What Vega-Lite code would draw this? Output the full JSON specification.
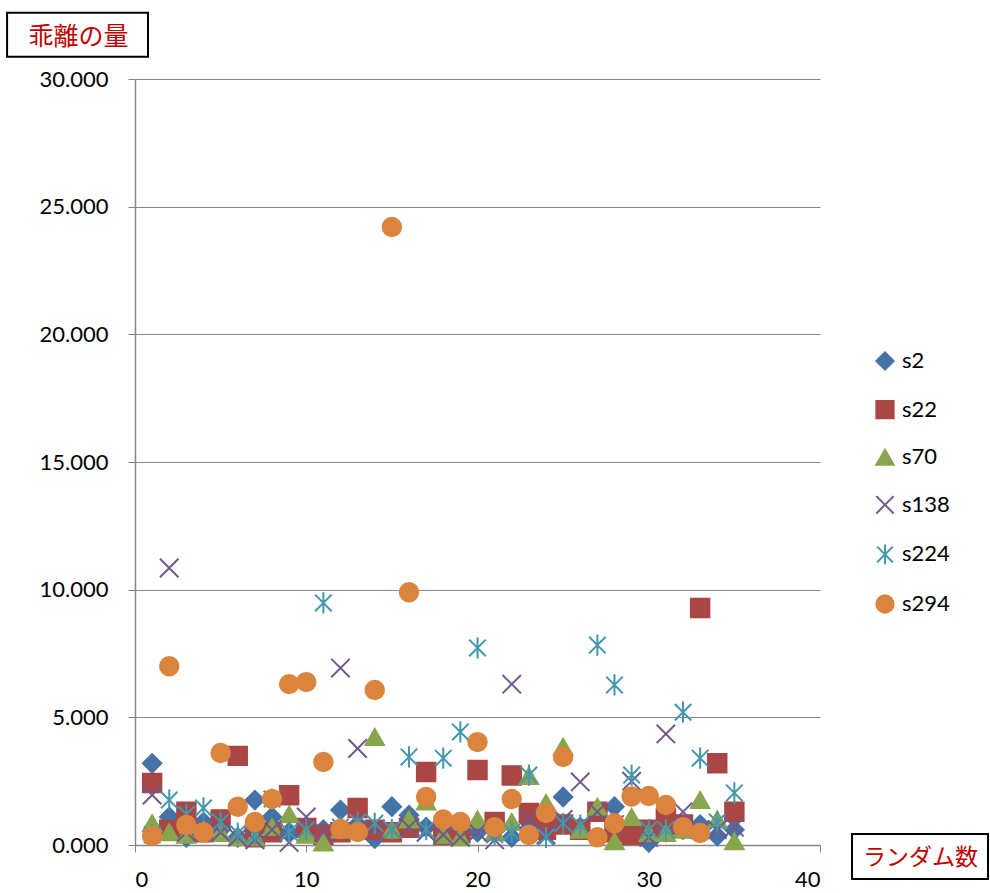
{
  "$schema": "https://vega.github.io/schema/vega-lite/v6.json",
  "width": 685,
  "height": 766,
  "autosize": {"type": "none"},
  "padding": {"left": 135, "top": 79, "right": 170, "bottom": 48},
  "background": "white",
  "config": {
    "view": {"stroke": null},
    "font": "Lato",
    "legend": {
      "orient": "none",
      "legendX": 739,
      "legendY": 271,
      "rowPadding": 22.6,
      "labelFontSize": 22,
      "labelFont": "Lato",
      "labelColor": "black",
      "labelOffset": 6,
      "padding": 0,
      "symbolSize": 300,
      "symbolStrokeWidth": 2,
      "symbolOpacity": 1
    }
  },
  "layer": [
    {
      "data": {"values": [{}]},
      "mark": {"type": "rect", "fill": "transparent", "stroke": "black", "strokeWidth": 2},
      "encoding": {
        "x": {"datum": -7.47, "type": "quantitative"},
        "x2": {"datum": 0.76},
        "y": {"datum": 32.59, "type": "quantitative"},
        "y2": {"datum": 30.87}
      }
    },
    {
      "data": {"values": [{}]},
      "mark": {"type": "rect", "fill": "transparent", "stroke": "black", "strokeWidth": 2},
      "encoding": {
        "x": {"datum": 41.87, "type": "quantitative"},
        "x2": {"datum": 49.81},
        "y": {"datum": 0.43, "type": "quantitative"},
        "y2": {"datum": -1.33}
      }
    },
    {
      "data": {"values": [
        {"x":1,"s":"s2","v":3.2},{"x":2,"s":"s2","v":1.1},{"x":3,"s":"s2","v":0.3},{"x":4,"s":"s2","v":0.9},{"x":5,"s":"s2","v":0.6},{"x":6,"s":"s2","v":0.3},{"x":7,"s":"s2","v":1.76},{"x":8,"s":"s2","v":1.1},{"x":9,"s":"s2","v":0.5},{"x":10,"s":"s2","v":0.5},{"x":11,"s":"s2","v":0.6},{"x":12,"s":"s2","v":1.37},{"x":13,"s":"s2","v":0.8},{"x":14,"s":"s2","v":0.25},{"x":15,"s":"s2","v":1.5},{"x":16,"s":"s2","v":1.17},{"x":17,"s":"s2","v":0.7},{"x":18,"s":"s2","v":0.5},{"x":19,"s":"s2","v":0.4},{"x":20,"s":"s2","v":0.5},{"x":21,"s":"s2","v":0.6},{"x":22,"s":"s2","v":0.3},{"x":23,"s":"s2","v":0.9},{"x":24,"s":"s2","v":0.6},{"x":25,"s":"s2","v":1.88},{"x":26,"s":"s2","v":0.7},{"x":27,"s":"s2","v":1.3},{"x":28,"s":"s2","v":1.5},{"x":29,"s":"s2","v":0.8},{"x":30,"s":"s2","v":0.1},{"x":31,"s":"s2","v":0.5},{"x":32,"s":"s2","v":0.6},{"x":33,"s":"s2","v":0.8},{"x":34,"s":"s2","v":0.35},{"x":35,"s":"s2","v":0.6},
        {"x":1,"s":"s22","v":2.43},{"x":2,"s":"s22","v":0.6},{"x":3,"s":"s22","v":1.3},{"x":4,"s":"s22","v":0.5},{"x":5,"s":"s22","v":1.0},{"x":6,"s":"s22","v":3.49},{"x":7,"s":"s22","v":0.3},{"x":8,"s":"s22","v":0.5},{"x":9,"s":"s22","v":1.95},{"x":10,"s":"s22","v":0.67},{"x":11,"s":"s22","v":0.4},{"x":12,"s":"s22","v":0.5},{"x":13,"s":"s22","v":1.45},{"x":14,"s":"s22","v":0.6},{"x":15,"s":"s22","v":0.5},{"x":16,"s":"s22","v":0.67},{"x":17,"s":"s22","v":2.86},{"x":18,"s":"s22","v":0.4},{"x":19,"s":"s22","v":0.47},{"x":20,"s":"s22","v":2.94},{"x":21,"s":"s22","v":0.9},{"x":22,"s":"s22","v":2.72},{"x":23,"s":"s22","v":1.25},{"x":24,"s":"s22","v":0.6},{"x":25,"s":"s22","v":0.8},{"x":26,"s":"s22","v":0.6},{"x":27,"s":"s22","v":1.3},{"x":28,"s":"s22","v":0.5},{"x":29,"s":"s22","v":0.4},{"x":30,"s":"s22","v":0.6},{"x":31,"s":"s22","v":1.05},{"x":32,"s":"s22","v":0.8},{"x":33,"s":"s22","v":9.28},{"x":34,"s":"s22","v":3.2},{"x":35,"s":"s22","v":1.3},
        {"x":1,"s":"s70","v":0.85},{"x":2,"s":"s70","v":0.5},{"x":3,"s":"s70","v":0.4},{"x":4,"s":"s70","v":0.6},{"x":5,"s":"s70","v":0.47},{"x":6,"s":"s70","v":0.3},{"x":7,"s":"s70","v":0.3},{"x":8,"s":"s70","v":0.7},{"x":9,"s":"s70","v":1.2},{"x":10,"s":"s70","v":0.4},{"x":11,"s":"s70","v":0.1},{"x":12,"s":"s70","v":0.6},{"x":13,"s":"s70","v":0.7},{"x":14,"s":"s70","v":4.23},{"x":15,"s":"s70","v":0.6},{"x":16,"s":"s70","v":1.0},{"x":17,"s":"s70","v":1.7},{"x":18,"s":"s70","v":0.4},{"x":19,"s":"s70","v":0.3},{"x":20,"s":"s70","v":1.0},{"x":21,"s":"s70","v":0.5},{"x":22,"s":"s70","v":0.9},{"x":23,"s":"s70","v":2.7},{"x":24,"s":"s70","v":1.65},{"x":25,"s":"s70","v":3.85},{"x":26,"s":"s70","v":0.6},{"x":27,"s":"s70","v":1.5},{"x":28,"s":"s70","v":0.15},{"x":29,"s":"s70","v":1.1},{"x":30,"s":"s70","v":0.47},{"x":31,"s":"s70","v":0.47},{"x":32,"s":"s70","v":0.6},{"x":33,"s":"s70","v":1.76},{"x":34,"s":"s70","v":1.0},{"x":35,"s":"s70","v":0.15},
        {"x":1,"s":"s138","v":1.96},{"x":2,"s":"s138","v":10.85},{"x":3,"s":"s138","v":0.5},{"x":4,"s":"s138","v":0.6},{"x":5,"s":"s138","v":0.5},{"x":6,"s":"s138","v":0.3},{"x":7,"s":"s138","v":0.2},{"x":8,"s":"s138","v":0.6},{"x":9,"s":"s138","v":0.1},{"x":10,"s":"s138","v":1.1},{"x":11,"s":"s138","v":0.5},{"x":12,"s":"s138","v":6.93},{"x":13,"s":"s138","v":3.78},{"x":14,"s":"s138","v":0.6},{"x":15,"s":"s138","v":0.6},{"x":16,"s":"s138","v":0.7},{"x":17,"s":"s138","v":0.5},{"x":18,"s":"s138","v":0.4},{"x":19,"s":"s138","v":0.3},{"x":20,"s":"s138","v":0.5},{"x":21,"s":"s138","v":0.2},{"x":22,"s":"s138","v":6.3},{"x":23,"s":"s138","v":1.0},{"x":24,"s":"s138","v":0.4},{"x":25,"s":"s138","v":1.0},{"x":26,"s":"s138","v":2.47},{"x":27,"s":"s138","v":1.3},{"x":28,"s":"s138","v":0.8},{"x":29,"s":"s138","v":2.5},{"x":30,"s":"s138","v":0.3},{"x":31,"s":"s138","v":4.35},{"x":32,"s":"s138","v":1.3},{"x":33,"s":"s138","v":0.6},{"x":34,"s":"s138","v":0.6},{"x":35,"s":"s138","v":0.7},
        {"x":1,"s":"s224","v":0.4},{"x":2,"s":"s224","v":1.76},{"x":3,"s":"s224","v":1.2},{"x":4,"s":"s224","v":1.45},{"x":5,"s":"s224","v":0.9},{"x":6,"s":"s224","v":0.47},{"x":7,"s":"s224","v":0.4},{"x":8,"s":"s224","v":1.8},{"x":9,"s":"s224","v":0.5},{"x":10,"s":"s224","v":0.6},{"x":11,"s":"s224","v":9.48},{"x":12,"s":"s224","v":0.7},{"x":13,"s":"s224","v":0.9},{"x":14,"s":"s224","v":0.85},{"x":15,"s":"s224","v":0.6},{"x":16,"s":"s224","v":3.45},{"x":17,"s":"s224","v":0.6},{"x":18,"s":"s224","v":3.4},{"x":19,"s":"s224","v":4.43},{"x":20,"s":"s224","v":7.72},{"x":21,"s":"s224","v":0.4},{"x":22,"s":"s224","v":0.5},{"x":23,"s":"s224","v":2.74},{"x":24,"s":"s224","v":0.3},{"x":25,"s":"s224","v":0.85},{"x":26,"s":"s224","v":0.78},{"x":27,"s":"s224","v":7.83},{"x":28,"s":"s224","v":6.27},{"x":29,"s":"s224","v":2.74},{"x":30,"s":"s224","v":0.6},{"x":31,"s":"s224","v":0.6},{"x":32,"s":"s224","v":5.2},{"x":33,"s":"s224","v":3.4},{"x":34,"s":"s224","v":0.9},{"x":35,"s":"s224","v":2.04},
        {"x":1,"s":"s294","v":0.35},{"x":2,"s":"s294","v":7.0},{"x":3,"s":"s294","v":0.78},{"x":4,"s":"s294","v":0.5},{"x":5,"s":"s294","v":3.6},{"x":6,"s":"s294","v":1.5},{"x":7,"s":"s294","v":0.9},{"x":8,"s":"s294","v":1.8},{"x":9,"s":"s294","v":6.3},{"x":10,"s":"s294","v":6.38},{"x":11,"s":"s294","v":3.25},{"x":12,"s":"s294","v":0.63},{"x":13,"s":"s294","v":0.51},{"x":14,"s":"s294","v":6.07},{"x":15,"s":"s294","v":24.2},{"x":16,"s":"s294","v":9.9},{"x":17,"s":"s294","v":1.88},{"x":18,"s":"s294","v":1.0},{"x":19,"s":"s294","v":0.9},{"x":20,"s":"s294","v":4.03},{"x":21,"s":"s294","v":0.7},{"x":22,"s":"s294","v":1.8},{"x":23,"s":"s294","v":0.39},{"x":24,"s":"s294","v":1.25},{"x":25,"s":"s294","v":3.45},{"x":27,"s":"s294","v":0.3},{"x":28,"s":"s294","v":0.85},{"x":29,"s":"s294","v":1.9},{"x":30,"s":"s294","v":1.92},{"x":31,"s":"s294","v":1.57},{"x":32,"s":"s294","v":0.7},{"x":33,"s":"s294","v":0.47}
      ]},
      "mark": {"type": "point", "strokeWidth": 2, "opacity": 1, "size": 340},
      "encoding": {
        "x": {
          "field": "x", "type": "quantitative",
          "scale": {"domain": [0, 40], "nice": false, "zero": false},
          "axis": {
            "values": [0, 10, 20, 30, 40], "format": "d", "grid": false,
            "labelFontSize": 22, "labelFont": "Lato", "labelColor": "black", "labelPadding": 17,
            "tickSize": 7, "tickColor": "#868686", "domainColor": "#868686", "domainWidth": 1.5,
            "title": "ランダム数", "titleFont": "Noto Sans CJK JP", "titleFontSize": 23, "titleFontWeight": "normal",
            "titleColor": "#C00000", "titleX": 785, "titleY": 12, "titleAlign": "center", "titleBaseline": "middle", "titleAngle": 0
          }
        },
        "y": {
          "field": "v", "type": "quantitative",
          "scale": {"domain": [0, 30], "nice": false},
          "axis": {
            "values": [0, 5, 10, 15, 20, 25, 30], "format": ".3f", "grid": true,
            "gridColor": "#868686", "gridWidth": 1,
            "labelFontSize": 22, "labelFont": "Lato", "labelColor": "black", "labelPadding": 20,
            "tickSize": 7, "tickColor": "#868686", "domainColor": "#868686", "domainWidth": 1.5,
            "title": "乖離の量", "titleFont": "Noto Sans CJK JP", "titleFontSize": 25, "titleFontWeight": "normal",
            "titleColor": "#C00000", "titleX": -57, "titleY": -43, "titleAlign": "center", "titleBaseline": "middle", "titleAngle": 0
          }
        },
        "shape": {
          "field": "s", "type": "nominal",
          "scale": {
            "domain": ["s2", "s22", "s70", "s138", "s224", "s294"],
            "range": ["diamond", "square", "triangle-up", "M-1,-1L1,1M-1,1L1,-1", "M-0.9,-0.9L0.9,0.9M-0.9,0.9L0.9,-0.9M0,-1.15L0,1.15", "circle"]
          },
          "legend": {"title": null}
        },
        "fill": {
          "field": "s", "type": "nominal",
          "scale": {
            "domain": ["s2", "s22", "s70", "s138", "s224", "s294"],
            "range": ["#4572A7", "#AA4643", "#89A54E", "transparent", "transparent", "#DB843D"]
          },
          "legend": {"title": null}
        },
        "stroke": {
          "field": "s", "type": "nominal",
          "scale": {
            "domain": ["s2", "s22", "s70", "s138", "s224", "s294"],
            "range": ["#4572A7", "#AA4643", "#89A54E", "#71588F", "#4198AF", "#DB843D"]
          },
          "legend": {"title": null}
        }
      }
    }
  ]
}
